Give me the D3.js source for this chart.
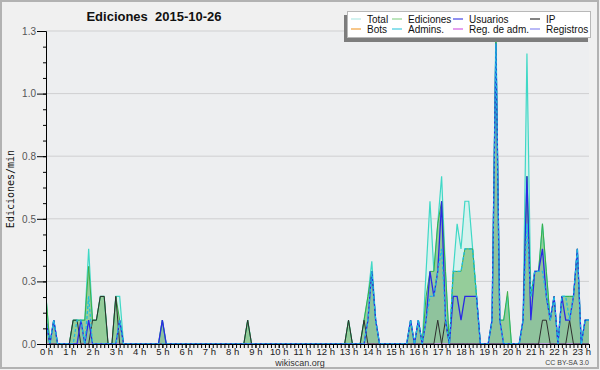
<!DOCTYPE html>
<html>
<head>
<meta charset="utf-8">
<script src="https://cdn.jsdelivr.net/npm/d3@7"></script>
<style>
  body { margin: 0; background: #f0f0f0; }
  svg { display: block; font-family: "Liberation Sans", Arial, sans-serif; }
</style>
</head>
<body>
<svg id="chart" width="600" height="370"></svg>
<script>
// 10-minute slots from 0h00 to 23h20 (edits per minute)
var N_SLOTS = 141;
var hourLabels = ["0 h","1 h","2 h","3 h","4 h","5 h","6 h","7 h","8 h","9 h","10 h","11 h",
                  "12 h","13 h","14 h","15 h","16 h","17 h","18 h","19 h","20 h","21 h","22 h","23 h"];
var yTicks = [0, 0.25, 0.5, 0.75, 1.0, 1.25];

// [slot, value] pairs, empty slots are 0
var total = [[0,0.19],[2,0.095],[7,0.095],[8,0.095],[9,0.095],[10,0.095],[11,0.38],[12,0.095],[13,0.095],
  [14,0.19],[15,0.19],[18,0.19],[19,0.19],[30,0.095],[52,0.095],[78,0.095],[82,0.095],[83,0.19],[84,0.33],
  [85,0.095],[94,0.095],[96,0.095],[98,0.29],[99,0.57],[100,0.29],[101,0.48],[102,0.67],[103,0.29],[105,0.29],
  [106,0.48],[107,0.38],[108,0.57],[109,0.57],[110,0.38],[111,0.19],[115,0.095],[116,1.27],[117,0.095],
  [118,0.095],[119,0.19],[123,0.095],[124,1.16],[125,0.19],[126,0.29],[127,0.29],[128,0.48],[129,0.29],
  [130,0.095],[131,0.19],[133,0.19],[134,0.19],[135,0.19],[136,0.19],[137,0.38],[139,0.095],[140,0.095]];
var ediciones = [[0,0.19],[2,0.095],[7,0.095],[8,0.095],[9,0.095],[10,0.095],[11,0.31],[12,0.095],[13,0.095],
  [14,0.19],[15,0.19],[18,0.19],[19,0.095],[30,0.095],[52,0.095],[78,0.095],[82,0.095],[83,0.19],[84,0.29],
  [85,0.095],[94,0.095],[96,0.095],[98,0.19],[99,0.29],[100,0.29],[101,0.48],[102,0.57],[103,0.29],[105,0.29],
  [106,0.29],[107,0.29],[108,0.38],[109,0.38],[110,0.38],[111,0.19],[115,0.095],[116,1.24],[117,0.095],
  [118,0.095],[119,0.21],[123,0.095],[124,0.67],[125,0.19],[126,0.29],[127,0.29],[128,0.48],[129,0.29],
  [130,0.095],[131,0.19],[133,0.19],[134,0.19],[135,0.19],[136,0.19],[137,0.38],[139,0.095],[140,0.095]];
var usuarios = [[0,0.095],[2,0.095],[9,0.095],[11,0.095],[19,0.095],[30,0.095],[83,0.095],[84,0.29],[85,0.095],
  [94,0.095],[96,0.095],[98,0.095],[99,0.29],[100,0.19],[101,0.29],[102,0.57],[103,0.095],[105,0.19],
  [106,0.19],[107,0.095],[108,0.19],[109,0.19],[110,0.19],[111,0.19],[115,0.095],[116,1.2],[117,0.095],
  [123,0.095],[124,0.67],[125,0.095],[126,0.29],[127,0.29],[128,0.38],[129,0.19],[130,0.095],[131,0.19],
  [133,0.19],[134,0.095],[135,0.095],[136,0.19],[137,0.38],[139,0.095],[140,0.095]];
var ip = [[0,0.095],[7,0.095],[8,0.095],[12,0.095],[13,0.095],[14,0.19],[15,0.19],[18,0.19],[52,0.095],
  [78,0.095],[82,0.095],[101,0.095],[103,0.095],[128,0.095],[129,0.095],[135,0.095]];
var bots = [];
var admins = [[0,0.095],[2,0.095],[8,0.095],[9,0.095],[11,0.19],[19,0.095],[83,0.095],[84,0.29],[85,0.095],
  [94,0.095],[96,0.095],[98,0.095],[99,0.19],[100,0.19],[101,0.29],[102,0.38],[103,0.095],[105,0.29],
  [106,0.29],[107,0.29],[108,0.38],[109,0.38],[110,0.38],[111,0.19],[115,0.095],[116,1.2],[117,0.095],
  [123,0.095],[124,0.48],[125,0.19],[126,0.29],[127,0.29],[128,0.29],[129,0.19],[130,0.095],[131,0.19],
  [133,0.19],[134,0.19],[135,0.095],[136,0.19],[137,0.38],[139,0.095],[140,0.095]];
var regAdm = [];
var registros = [];

var legendItems = [
  {name: "Total", color: "#b4e9e6"}, {name: "Ediciones", color: "#8fd48f"},
  {name: "Usuarios", color: "#4646e6"}, {name: "IP", color: "#333333"},
  {name: "Bots", color: "#f2a23c"}, {name: "Admins.", color: "#44cbe0"},
  {name: "Reg. de adm.", color: "#d35ee3"}, {name: "Registros", color: "#8a8af2"}
];

function dense(pairs) {
  var arr = [];
  for (var i = 0; i < N_SLOTS; i++) arr.push(0);
  pairs.forEach(function(p) { arr[p[0]] = p[1]; });
  return arr;
}

var svg = d3.select("#chart");
var plotL = 46, plotR = 589, plotT = 31, plotB = 344;

var x = d3.scaleLinear().domain([0, N_SLOTS - 1]).range([plotL, plotR]);
var y = d3.scaleLinear().domain([0, 1.25]).range([plotB, plotT]);

// frame
svg.append("rect").attr("x", 1).attr("y", 1).attr("width", 597).attr("height", 367)
  .attr("fill", "#f0f0f0").attr("stroke", "#b2b2b2").attr("stroke-width", 2);
svg.append("rect").attr("x", plotL).attr("y", plotT).attr("width", plotR - plotL).attr("height", plotB - plotT)
  .attr("fill", "#edeef0");

// grid
svg.append("g").selectAll("line").data(yTicks.slice(1)).enter().append("line")
  .attr("x1", plotL).attr("x2", plotR)
  .attr("y1", function(d) { return y(d); }).attr("y2", function(d) { return y(d); })
  .attr("stroke", "#cfcfd1").attr("stroke-width", 1);

svg.append("defs").append("clipPath").attr("id", "plot")
  .append("rect").attr("x", plotL).attr("y", plotT).attr("width", plotR - plotL).attr("height", plotB - plotT);

var plot = svg.append("g").attr("clip-path", "url(#plot)");

function area(vals) {
  return d3.area().x(function(d, i) { return x(i); }).y0(y(0)).y1(function(d) { return y(d); })(vals);
}
function line(vals) {
  return d3.line().x(function(d, i) { return x(i); }).y(function(d) { return y(d); })(vals);
}

var T = dense(total), E = dense(ediciones), U = dense(usuarios), I = dense(ip), A = dense(admins);

plot.append("path").attr("d", area(T)).attr("fill", "#d6f2ee");
plot.append("path").attr("d", area(E)).attr("fill", "#8fca93").attr("fill-opacity", 0.92);
plot.append("path").attr("d", area(U)).attr("fill", "#3a3ad8").attr("fill-opacity", 0.06);

[[bots, "#f2a23c"], [regAdm, "#d35ee3"], [registros, "#8a8af2"]].forEach(function(s) {
  plot.append("path").attr("d", line(dense(s[0]))).attr("fill", "none").attr("stroke", s[1]);
});
plot.append("path").attr("d", line(T)).attr("fill", "none").attr("stroke", "#3fd8c6").attr("stroke-width", 1.2);
plot.append("path").attr("d", line(E)).attr("fill", "none").attr("stroke", "#3cae46").attr("stroke-width", 1);
plot.append("path").attr("d", line(I)).attr("fill", "none").attr("stroke", "#2e2e2e").attr("stroke-width", 1);
plot.append("path").attr("d", line(U)).attr("fill", "none").attr("stroke", "#2a2ae4").attr("stroke-width", 1.3);
plot.append("path").attr("d", line(A)).attr("fill", "none").attr("stroke", "#1ebde0").attr("stroke-width", 1.3)
  .attr("stroke-dasharray", "3,2");

// y axis
svg.append("g").attr("transform", "translate(" + plotL + ",0)")
  .call(d3.axisLeft(y).tickValues(d3.range(0, 1.25, 0.0625)).tickSize(3).tickFormat("").tickSizeOuter(0));
var yAxis = svg.append("g").attr("transform", "translate(" + plotL + ",0)")
  .call(d3.axisLeft(y).tickValues(yTicks).tickSize(9).tickPadding(1).tickFormat(d3.format(".1f")).tickSizeOuter(0));
yAxis.selectAll("text").attr("font-size", 10).attr("fill", "#555").attr("font-family", "Liberation Sans");

// x axis
svg.append("g").attr("transform", "translate(0," + plotB + ")")
  .call(d3.axisBottom(x).tickValues(d3.range(N_SLOTS)).tickSize(4).tickFormat("").tickSizeOuter(0));
var xAxis = svg.append("g").attr("transform", "translate(0," + plotB + ")")
  .call(d3.axisBottom(x).tickValues(hourLabels.map(function(l, h) { return h * 6; }))
    .tickSize(4).tickPadding(0).tickFormat(function(d) { return hourLabels[d / 6]; }).tickSizeOuter(0));
xAxis.selectAll("text").attr("font-size", 9.5).attr("fill", "#222").attr("font-family", "Liberation Sans");
svg.selectAll(".domain, .tick line").attr("stroke", "#000");

// titles
svg.append("text").attr("x", 154).attr("y", 21).attr("text-anchor", "middle")
  .attr("font-size", 13).attr("font-weight", "bold").attr("fill", "#111")
  .style("white-space", "pre").text("Ediciones  2015-10-26");
svg.append("text").attr("transform", "translate(13.5,189) rotate(-90)").attr("text-anchor", "middle")
  .attr("font-family", "DejaVu Sans Mono").attr("font-size", 10).attr("fill", "#111").text("Ediciones/min");
svg.append("text").attr("x", 300).attr("y", 366).attr("text-anchor", "middle")
  .attr("font-size", 9).attr("fill", "#333").text("wikiscan.org");
svg.append("text").attr("x", 589).attr("y", 364.5).attr("text-anchor", "end")
  .attr("font-size", 7).attr("fill", "#444").text("CC BY-SA 3.0");

// legend
var lg = svg.append("g");
lg.append("rect").attr("x", 344).attr("y", 15).attr("width", 244).attr("height", 27).attr("fill", "#7d7d7d");
lg.append("rect").attr("x", 347.5).attr("y", 11.5).attr("width", 243).attr("height", 26)
  .attr("fill", "#fff").attr("stroke", "#b8b8b8");
var colX = [351, 392, 453, 530];
var rowY = [19, 29];
legendItems.forEach(function(it, k) {
  var cx = colX[k % 4], cy = rowY[Math.floor(k / 4)];
  lg.append("line").attr("x1", cx).attr("x2", cx + 10).attr("y1", cy).attr("y2", cy)
    .attr("stroke", it.color).attr("stroke-width", 1.2);
  lg.append("text").attr("x", cx + 16).attr("y", cy + 3.7).attr("font-size", 10).attr("fill", "#111").text(it.name);
});
</script>
</body>
</html>
